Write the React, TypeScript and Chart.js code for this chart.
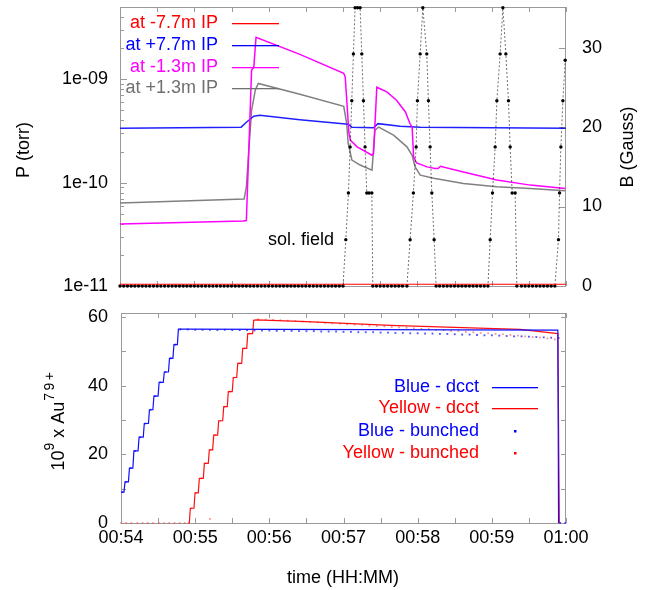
import React, { useEffect, useRef } from 'react';
import { Chart, registerables } from 'chart.js';

Chart.register(...registerables);

const FONT = "'Liberation Sans', Arial, Helvetica, sans-serif";

// ---------------- shared time axis (minutes after 00:54) ----------------
const timeTickValues = [0, 1, 2, 3, 4, 5, 6];
const timeTickLabels = ['00:54', '00:55', '00:56', '00:57', '00:58', '00:59', '01:00'];
const timeMinorTicks = [0, 0.5, 1, 1.5, 2, 2.5, 3, 3.5, 4, 4.5, 5, 5.5, 6];

// ---------------- top panel: vacuum pressure (torr) ----------------
const pressureLabels = ['at -7.7m IP', 'at +7.7m IP', 'at -1.3m IP', 'at +1.3m IP'];
const pTickValues = [1e-11, 1e-10, 1e-9];
const pTickLabels = ['1e-11', '1e-10', '1e-09'];
const pMinorTicks = [2e-11, 3e-11, 4e-11, 5e-11, 6e-11, 7e-11, 8e-11, 9e-11, 2e-10, 3e-10, 4e-10, 5e-10, 6e-10, 7e-10, 8e-10, 9e-10, 2e-9, 3e-9, 4e-9];
const bTickValues = [0, 10, 20, 30];

const redT = [0, 6];
const redP = [1.04e-11, 1.04e-11];

const blueT = [0, 1.63, 1.70, 1.80, 1.88, 2.42, 3.07, 3.12, 3.41, 3.47, 3.77, 4.04, 6.0];
const blueP = [3.36e-10, 3.44e-10, 3.84e-10, 4.39e-10, 4.49e-10, 4.06e-10, 3.67e-10, 3.44e-10, 3.40e-10, 3.72e-10, 3.52e-10, 3.44e-10, 3.36e-10];

const magT = [0, 1.66, 1.70, 1.77, 1.80, 1.83, 2.42, 3.01, 3.03, 3.08, 3.10, 3.19, 3.39, 3.41, 3.455, 3.59, 3.72, 3.84, 3.90, 3.93, 3.95, 3.99, 4.13, 4.24, 4.28, 4.31, 4.62, 5.07, 5.52, 5.99];
const magP = [3.97e-11, 4.25e-11, 4.3e-11, 1.22e-9, 1.31e-9, 2.55e-9, 1.74e-9, 1.14e-9, 1.05e-9, 2.99e-10, 2.57e-10, 2.22e-10, 1.84e-10, 1.9e-10, 8.37e-10, 7.54e-10, 6.27e-10, 4.83e-10, 3.73e-10, 3.45e-10, 1.78e-10, 1.55e-10, 1.42e-10, 1.37e-10, 1.37e-10, 1.44e-10, 1.27e-10, 1.06e-10, 9.46e-11, 8.79e-11];

const grayT = [0, 1.67, 1.70, 1.77, 1.82, 1.86, 2.42, 3.01, 3.05, 3.07, 3.12, 3.23, 3.39, 3.43, 3.48, 3.68, 3.86, 3.93, 3.97, 4.04, 4.22, 4.62, 5.07, 5.52, 5.99];
const grayP = [6.34e-11, 6.93e-11, 9.1e-11, 5.01e-10, 7.83e-10, 9.1e-10, 7.16e-10, 5.48e-10, 3.73e-10, 2.39e-10, 1.65e-10, 1.48e-10, 1.32e-10, 3.22e-10, 3.45e-10, 2.88e-10, 2.22e-10, 1.84e-10, 1.42e-10, 1.18e-10, 1.10e-10, 9.83e-11, 9.1e-11, 8.79e-11, 8.34e-11];

// solenoid field (Gauss) samples: [minute, B]
const solField: [number, number][] = [
  [0, 0], [0.05, 0], [0.1, 0], [0.15, 0], [0.2, 0], [0.25, 0], [0.3, 0], [0.35, 0], [0.4, 0], [0.45, 0],
  [0.5, 0], [0.55, 0], [0.6, 0], [0.65, 0], [0.7, 0], [0.75, 0], [0.8, 0], [0.85, 0], [0.9, 0], [0.95, 0],
  [1.0, 0], [1.05, 0], [1.1, 0], [1.15, 0], [1.2, 0], [1.25, 0], [1.3, 0], [1.35, 0], [1.4, 0], [1.45, 0],
  [1.5, 0], [1.55, 0], [1.6, 0], [1.65, 0], [1.7, 0], [1.75, 0], [1.8, 0], [1.85, 0], [1.9, 0], [1.95, 0],
  [2.0, 0], [2.05, 0], [2.1, 0], [2.15, 0], [2.2, 0], [2.25, 0], [2.3, 0], [2.35, 0], [2.4, 0], [2.45, 0],
  [2.5, 0], [2.55, 0], [2.6, 0], [2.65, 0], [2.7, 0], [2.75, 0], [2.8, 0], [2.85, 0], [2.9, 0], [2.95, 0],
  [3.0, 0], [3.038, 5.83], [3.073, 11.7], [3.096, 17.5], [3.118, 23.3], [3.14, 29.2], [3.163, 35], [3.196, 35],
  [3.23, 35], [3.253, 29.2], [3.275, 23.3], [3.297, 17.5], [3.32, 11.7], [3.351, 11.7], [3.388, 11.7], [3.401, 0],
  [3.45, 0], [3.5, 0], [3.55, 0], [3.6, 0], [3.65, 0], [3.7, 0], [3.75, 0], [3.8, 0], [3.86, 0],
  [3.903, 5.83], [3.947, 11.7], [3.984, 17.5], [4.001, 23.3], [4.038, 29.2], [4.074, 35], [4.127, 29.2],
  [4.149, 23.3], [4.172, 17.5], [4.195, 11.7], [4.226, 5.83], [4.253, 0],
  [4.3, 0], [4.35, 0], [4.4, 0], [4.45, 0], [4.5, 0], [4.55, 0], [4.6, 0], [4.65, 0], [4.7, 0], [4.75, 0],
  [4.8, 0], [4.85, 0], [4.9, 0], [4.95, 0],
  [4.98, 5.83], [5.011, 11.7], [5.047, 17.5], [5.07, 23.3], [5.114, 29.2], [5.151, 35], [5.191, 29.2],
  [5.226, 23.3], [5.249, 17.5], [5.276, 11.7], [5.316, 11.7], [5.339, 0],
  [5.4, 0], [5.45, 0], [5.5, 0], [5.55, 0], [5.6, 0], [5.65, 0], [5.7, 0], [5.75, 0], [5.8, 0], [5.85, 0],
  [5.899, 5.83], [5.913, 11.7], [5.931, 17.5], [5.958, 23.3], [5.989, 28.4],
];

// ---------------- bottom panel: beam intensity (10^9 Au ions) ----------------
const intensityLabels = ['Blue - dcct', 'Yellow - dcct', 'Blue - bunched', 'Yellow - bunched'];
const intTickValues = [0, 20, 40, 60];
const intMinorTicks = [0, 10, 20, 30, 40, 50, 60];

const blueStepT = [0.0, 0.04, 0.10, 0.16, 0.23, 0.30, 0.37, 0.43, 0.50, 0.57, 0.64, 0.70, 0.76];
const blueStepV = [9, 12, 16, 21, 25, 29, 33, 37, 41, 44, 48, 52, 56.5];
const blueTailT = [0.80, 5.89, 5.90];
const blueTailV = [56.5, 56.2, 0];

const yelStepT = [0.90, 0.921, 0.984, 1.042, 1.110, 1.177, 1.236, 1.303, 1.371, 1.433, 1.500, 1.560, 1.627, 1.695, 1.775];
const yelStepV = [0, 4.3, 8.8, 13.0, 17.4, 21.3, 25.6, 29.8, 33.9, 38.3, 42.4, 46.5, 50.9, 55.2, 59.1];
const yelTailT = [1.82, 2.5, 3.63, 4.5, 5.38, 5.89, 5.91];
const yelTailV = [59.2, 58.7, 57.6, 57.0, 56.4, 55.2, 0];

const blueBunchT = [0.02, 0.07, 0.13, 0.19, 0.26, 0.33, 0.40, 0.46, 0.53, 0.60, 0.67, 0.73,
  0.8, 0.9, 1.0, 1.1, 1.2, 1.3, 1.4, 1.5, 1.6, 1.7, 1.8, 1.9, 2.0, 2.1, 2.2, 2.3, 2.4, 2.5, 2.6, 2.7, 2.8, 2.9,
  3.0, 3.1, 3.2, 3.3, 3.4, 3.5, 3.6, 3.7, 3.8, 3.9, 4.0, 4.1, 4.2, 4.3, 4.4, 4.5, 4.6, 4.7, 4.8, 4.9,
  5.0, 5.1, 5.2, 5.3, 5.4, 5.5, 5.6, 5.7, 5.8, 5.9, 5.92, 5.99];
const blueBunchV = [9, 12, 16, 21, 25, 29, 33, 37, 41, 44, 48, 52,
  56.4, 56.4, 56.3, 56.3, 56.3, 56.2, 56.3, 56.2, 56.2, 56.2, 56.1, 56.1, 56.1, 56.0, 56.0, 56.0, 55.9, 55.9, 55.9, 55.8, 55.8, 55.8,
  55.7, 55.7, 55.6, 55.6, 55.6, 55.5, 55.5, 55.4, 55.4, 55.3, 55.3, 55.2, 55.2, 55.1, 55.1, 55.0, 54.9, 54.9, 54.8, 54.7,
  54.7, 54.6, 54.5, 54.4, 54.4, 54.3, 54.2, 54.1, 54.0, 53.9, 0, 0];

const yelBunchT = [0, 0.07, 0.14, 0.22, 0.29, 0.36, 0.43, 0.51, 0.58, 0.65, 0.72, 0.79, 0.86,
  0.95, 1.01, 1.08, 1.14, 1.20, 1.21, 1.27, 1.34, 1.40, 1.47, 1.53, 1.59, 1.66, 1.73,
  1.85, 1.95, 2.05, 2.15, 2.25, 2.35, 2.45, 2.55, 2.65, 2.75, 2.85, 2.95, 3.05, 3.15, 3.25, 3.35, 3.45, 3.55,
  3.65, 3.75, 3.85, 3.95, 4.05, 4.15, 4.25, 4.35, 4.45, 4.55, 4.65, 4.75, 4.85, 4.95, 5.05, 5.15, 5.25, 5.35,
  5.45, 5.55, 5.65, 5.75, 5.85, 5.92];
const yelBunchV = [0, 0, 0, 0, 0, 0, 0, 0, 0, 0, 0, 0, 0,
  4.3, 8.8, 13.0, 17.4, 1.2, 21.3, 25.6, 29.8, 33.9, 38.3, 42.4, 46.5, 50.9, 55.2,
  59.4, 59.3, 59.2, 59.1, 59.0, 58.9, 58.7, 58.6, 58.5, 58.3, 58.2, 58.1, 57.9, 57.8, 57.7, 57.5, 57.4, 57.3,
  57.1, 57.0, 56.9, 56.7, 56.6, 56.5, 56.3, 56.2, 56.0, 55.9, 55.7, 55.6, 55.4, 55.3, 55.1, 55.0, 54.8, 54.6,
  54.4, 54.2, 54.0, 53.8, 53.5, 0];

// ---------------- helpers ----------------
const pts = (t: number[], v: number[]) => t.map((x, i) => ({ x, y: v[i] }));
const RISE = 0.014;
const stepPts = (t: number[], v: number[]) => {
  const out: { x: number; y: number }[] = [];
  t.forEach((x, i) => {
    if (i > 0) out.push({ x, y: v[i - 1] });
    out.push({ x: i > 0 ? x + RISE : x, y: v[i] });
  });
  return out;
};

type Txt = { text: string; x: number; y: number; color?: string; align?: CanvasTextAlign; rotate?: boolean };
type Row = { text: string; color: string; y: number; kind: 'line' | 'point'; textRight: number; x1: number; x2: number };
type TickSet = { scale: string; values: number[]; len: number; sides: string[] };
type Part = { t: string; size: number; dy?: number; gap?: number; spacing?: number };
type Rich = { parts: Part[]; x: number; y: number };

const deco = {
  id: 'deco',
  beforeDatasetsDraw(chart: any, _a: any, o: any) {
    const { ctx, chartArea: a } = chart;
    ctx.save();
    ctx.strokeStyle = '#9a9a9a';
    ctx.lineWidth = 1;
    ctx.strokeRect(a.left + 0.5, a.top + 0.5, a.right - a.left - 1, a.bottom - a.top);
    (o.ticks as TickSet[]).forEach((ts) => {
      const s = chart.scales[ts.scale];
      ts.values.forEach((v) => {
        const p = Math.round(s.getPixelForValue(v)) + 0.5;
        ctx.beginPath();
        ts.sides.forEach((side) => {
          if (side === 'bottom') { ctx.moveTo(p, a.bottom); ctx.lineTo(p, a.bottom - ts.len); }
          if (side === 'top') { ctx.moveTo(p, a.top); ctx.lineTo(p, a.top + ts.len); }
          if (side === 'left') { ctx.moveTo(a.left, p); ctx.lineTo(a.left + ts.len, p); }
          if (side === 'right') { ctx.moveTo(a.right, p); ctx.lineTo(a.right - ts.len, p); }
        });
        ctx.stroke();
      });
    });
    ctx.restore();
  },
  afterDatasetsDraw(chart: any, _a: any, o: any) {
    const { ctx } = chart;
    ctx.save();
    ctx.setLineDash([]);
    ctx.font = `18px ${FONT}`;
    ctx.textBaseline = 'middle';
    (o.texts as Txt[]).forEach((t) => {
      ctx.save();
      ctx.fillStyle = t.color || '#000';
      ctx.textAlign = t.align || 'center';
      ctx.translate(t.x, t.y);
      if (t.rotate) ctx.rotate(-Math.PI / 2);
      ctx.fillText(t.text, 0, 0);
      ctx.restore();
    });
    (o.rows as Row[]).forEach((r) => {
      ctx.fillStyle = r.color;
      ctx.textAlign = 'right';
      ctx.fillText(r.text, r.textRight, r.y);
      if (r.kind === 'line') {
        ctx.fillRect(r.x1, r.y, r.x2 - r.x1, 1.3);
      } else {
        ctx.fillRect((r.x1 + r.x2) / 2 - 1, r.y - 1, 2.5, 2.5);
      }
    });
    (o.rich as Rich[]).forEach((rt) => {
      ctx.save();
      ctx.fillStyle = '#000';
      ctx.textAlign = 'left';
      ctx.translate(rt.x, rt.y);
      ctx.rotate(-Math.PI / 2);
      const advance = (p: Part) => {
        ctx.font = `${p.size}px ${FONT}`;
        let w = 0;
        for (const ch of p.t) w += ctx.measureText(ch).width + (p.spacing || 0);
        return w + (p.gap || 0);
      };
      const total = rt.parts.reduce((s, p) => s + advance(p), 0);
      let x = -total / 2;
      rt.parts.forEach((p) => {
        ctx.font = `${p.size}px ${FONT}`;
        for (const ch of p.t) {
          ctx.fillText(ch, x, p.dy || 0);
          x += ctx.measureText(ch).width + (p.spacing || 0);
        }
        x += p.gap || 0;
      });
      ctx.restore();
    });
    ctx.restore();
  },
};

const hiddenGrid = { display: false, drawTicks: false };
const noVPad = (w: number) => (s: any) => { s.width = w; s.paddingTop = 0; s.paddingBottom = 0; };

function topConfig(): any {
  return {
    type: 'line',
    data: {
      datasets: [
        { label: pressureLabels[0], data: pts(redT, redP), borderColor: '#ff0000', borderWidth: 1, pointRadius: 0, yAxisID: 'y' },
        {
          label: 'sol. field', data: solField.map(([x, y]) => ({ x, y })), yAxisID: 'y2',
          borderColor: 'rgba(0,0,0,0.7)', borderWidth: 0.8, borderDash: [2, 2],
          pointRadius: 1.7, pointBackgroundColor: '#000', pointBorderWidth: 0, clip: false,
        },
        { label: pressureLabels[2], data: pts(magT, magP), borderColor: '#ff00ff', borderWidth: 1.5, pointRadius: 0, yAxisID: 'y' },
        { label: pressureLabels[1], data: pts(blueT, blueP), borderColor: '#2020ff', borderWidth: 1.5, pointRadius: 0, yAxisID: 'y' },
        { label: pressureLabels[3], data: pts(grayT, grayP), borderColor: '#808080', borderWidth: 1.5, pointRadius: 0, yAxisID: 'y' },
      ],
    },
    options: {
      responsive: false,
      animation: false,
      devicePixelRatio: 1,
      layout: { padding: { left: 0, right: 0, top: 7, bottom: 14 } },
      plugins: {
        legend: { display: false },
        tooltip: { enabled: false },
        deco: {
          ticks: [
            { scale: 'x', values: timeMinorTicks, len: 5, sides: ['bottom', 'top'] },
            { scale: 'y', values: pTickValues, len: 7, sides: ['left'] },
            { scale: 'y', values: pMinorTicks, len: 4, sides: ['left'] },
            { scale: 'y2', values: bTickValues, len: 7, sides: ['right'] },
          ],
          texts: [
            { text: 'P (torr)', x: 24, y: 150, rotate: true },
            { text: 'B (Gauss)', x: 628, y: 147, rotate: true },
            { text: 'sol. field', x: 268, y: 240, align: 'left' },
          ],
          rows: [
            { text: pressureLabels[0], color: '#ff0000', y: 23, kind: 'line', textRight: 218, x1: 232, x2: 279 },
            { text: pressureLabels[1], color: '#0000ff', y: 45, kind: 'line', textRight: 218, x1: 232, x2: 279 },
            { text: pressureLabels[2], color: '#ff00ff', y: 67, kind: 'line', textRight: 218, x1: 232, x2: 279 },
            { text: pressureLabels[3], color: '#707070', y: 88, kind: 'line', textRight: 218, x1: 232, x2: 279 },
          ],
          rich: [],
        },
      },
      scales: {
        x: { type: 'linear', min: 0, max: 6, display: false },
        y: {
          type: 'logarithmic', position: 'left', min: 1e-11, max: 5e-9,
          afterBuildTicks: (s: any) => { s.ticks = pTickValues.map((value) => ({ value })); },
          ticks: { callback: (_v: any, i: number) => pTickLabels[i], padding: 12, color: '#000', font: { size: 18, family: FONT } },
          grid: hiddenGrid, border: { display: false },
          afterFit: noVPad(120),
        },
        y2: {
          type: 'linear', position: 'right', min: 0, max: 35.1,
          afterBuildTicks: (s: any) => { s.ticks = bTickValues.map((value) => ({ value })); },
          ticks: { padding: 16, color: '#000', font: { size: 18, family: FONT } },
          grid: hiddenGrid, border: { display: false },
          afterFit: noVPad(86),
        },
      },
    },
    plugins: [deco],
  };
}

function bottomConfig(): any {
  return {
    type: 'line',
    data: {
      datasets: [
        { label: intensityLabels[0], data: stepPts(blueStepT, blueStepV).concat(pts(blueTailT, blueTailV)), borderColor: '#1010ff', borderWidth: 1.2, pointRadius: 0, clip: 2 },
        { label: intensityLabels[1], data: stepPts(yelStepT, yelStepV).concat(pts(yelTailT, yelTailV)), borderColor: '#ff1010', borderWidth: 1.2, pointRadius: 0, clip: 2 },
        {
          label: intensityLabels[2], data: pts(blueBunchT, blueBunchV), showLine: false,
          pointStyle: 'rect', pointRadius: 1.3, pointBackgroundColor: 'rgba(40,40,255,0.8)', pointBorderWidth: 0, clip: false,
        },
        {
          label: intensityLabels[3], data: pts(yelBunchT, yelBunchV), showLine: false,
          pointStyle: 'rect', pointRadius: 1.2, pointBackgroundColor: 'rgba(255,60,60,0.6)', pointBorderWidth: 0, clip: false,
        },
      ],
    },
    options: {
      responsive: false,
      animation: false,
      devicePixelRatio: 1,
      layout: { padding: { left: 0, right: 86, top: 13, bottom: 0 } },
      plugins: {
        legend: { display: false },
        tooltip: { enabled: false },
        deco: {
          ticks: [
            { scale: 'x', values: timeMinorTicks, len: 5, sides: ['bottom', 'top'] },
            { scale: 'y', values: intMinorTicks, len: 5, sides: ['left', 'right'] },
          ],
          texts: [
            { text: 'time (HH:MM)', x: 343, y: 278 },
          ],
          rows: [
            { text: intensityLabels[0], color: '#0000ff', y: 87, kind: 'line', textRight: 479, x1: 492, x2: 538 },
            { text: intensityLabels[1], color: '#ff0000', y: 108, kind: 'line', textRight: 479, x1: 492, x2: 538 },
            { text: intensityLabels[2], color: '#0000ff', y: 131, kind: 'point', textRight: 479, x1: 492, x2: 538 },
            { text: intensityLabels[3], color: '#ff0000', y: 153, kind: 'point', textRight: 479, x1: 492, x2: 538 },
          ],
          rich: [
            {
              parts: [
                { t: '10', size: 18 },
                { t: '9', size: 14, dy: -9, gap: 5 },
                { t: 'x Au', size: 18, gap: 1 },
                { t: '79+', size: 14, dy: -9, spacing: 2.5 },
              ],
              x: 59, y: 120,
            },
          ],
        },
      },
      scales: {
        x: {
          type: 'linear', min: 0, max: 6,
          afterBuildTicks: (s: any) => { s.ticks = timeTickValues.map((value) => ({ value })); },
          ticks: { callback: (_v: any, i: number) => timeTickLabels[i], padding: 4, maxRotation: 0, autoSkip: false, color: '#000', font: { size: 18, family: FONT } },
          grid: hiddenGrid, border: { display: false },
          afterFit: (s: any) => { s.height = 67; s.paddingLeft = 0; s.paddingRight = 0; },
        },
        y: {
          type: 'linear', min: 0, max: 61.2,
          afterBuildTicks: (s: any) => { s.ticks = intTickValues.map((value) => ({ value })); },
          ticks: { padding: 13, color: '#000', font: { size: 18, family: FONT } },
          grid: hiddenGrid, border: { display: false },
          afterFit: noVPad(121),
        },
      },
    },
    plugins: [deco],
  };
}

export default function App() {
  const topRef = useRef<HTMLCanvasElement>(null);
  const botRef = useRef<HTMLCanvasElement>(null);
  useEffect(() => {
    Chart.defaults.font.family = FONT;
    const top = new Chart(topRef.current as HTMLCanvasElement, topConfig());
    const bot = new Chart(botRef.current as HTMLCanvasElement, bottomConfig());
    return () => {
      top.destroy();
      bot.destroy();
    };
  }, []);
  return (
    <div style={{ position: 'absolute', left: 0, top: 0, width: 652, height: 590, background: '#fff' }}>
      <canvas ref={topRef} width={652} height={300} style={{ position: 'absolute', left: 0, top: 0, width: 652, height: 300 }} />
      <canvas ref={botRef} width={652} height={290} style={{ position: 'absolute', left: 0, top: 300, width: 652, height: 290 }} />
    </div>
  );
}
